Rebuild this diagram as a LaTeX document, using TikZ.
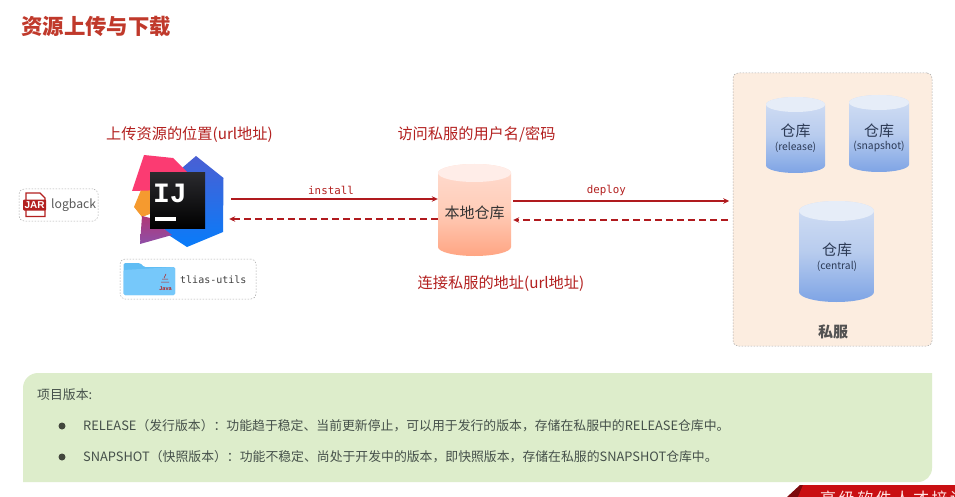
\documentclass[tikz,border=0pt]{standalone}
\usepackage{fontspec}
\setmainfont{Noto Sans CJK SC}
\newfontfamily\monof{DejaVu Sans Mono}
\newfontfamily\logof{Liberation Mono}
\newfontfamily\sansf{Liberation Sans}
\usetikzlibrary{arrows.meta,calc}
\definecolor{titlered}{HTML}{C0392B}
\definecolor{labelred}{HTML}{B3201F}
\definecolor{linkred}{HTML}{B01A1E}
\definecolor{boxgray}{HTML}{ABABAB}
\definecolor{serverfill}{HTML}{FCEDE0}
\definecolor{panelgreen}{HTML}{DDEDCB}
\definecolor{panelink}{HTML}{45504A}
\definecolor{repoink}{HTML}{2C3A55}
\newcommand{\fsz}[1]{\fontsize{#1}{#1}\selectfont}
\newcommand{\cylshape}[6]{%
  \pgfmathsetmacro{\cxx}{(#2+#3)/2}%
  \pgfmathsetmacro{\rxx}{(#3-#2)/2}%
  \pgfmathsetmacro{\ya}{#4+#6}%
  \pgfmathsetmacro{\yb}{#5-#6}%
  \pgfmathsetmacro{\cyy}{(#4+#5)/2}%
  \pgfmathsetmacro{\hh}{#5-#4}%
  \pgfmathsetmacro{\ww}{#3-#2}%
  \node[minimum width=\ww pt,minimum height=\hh pt,inner sep=0pt] (#1) at (\cxx,\cyy) {};
  \path[#1body] (#2,\ya) -- (#2,\yb) arc[start angle=180,end angle=360,x radius=\rxx pt,y radius=#6 pt]
     -- (#3,\ya) arc[start angle=0,end angle=180,x radius=\rxx pt,y radius=#6 pt] -- cycle;
  \path[#1cap] (\cxx,\ya) ellipse[x radius=\rxx pt,y radius=#6 pt];
}
\definecolor{FFDCD0}{HTML}{FFDCD0}
\definecolor{FFA583}{HTML}{FFA583}
\definecolor{FFCDB9}{HTML}{FFCDB9}
\definecolor{FFEDE8}{HTML}{FFEDE8}
\definecolor{D3DFF4}{HTML}{D3DFF4}
\definecolor{7EA4E5}{HTML}{7EA4E5}
\definecolor{B8CCEE}{HTML}{B8CCEE}
\definecolor{E6EDF8}{HTML}{E6EDF8}
\tikzset{
  x=1pt,y=-1pt,
  dashbox/.style={draw=boxgray,line width=.5pt,dash pattern=on 1.5pt off 1.5pt,rounded corners=5pt},
  tag/.style={inner sep=0pt,font=\fsz{15.2},text=labelred},
  link/.style={draw=linkred,line width=1.6pt,-{Stealth[length=6pt,width=5.5pt]}},
  backlink/.style={draw=linkred,line width=1.6pt,dash pattern=on 7pt off 4pt,-{Stealth[length=6pt,width=5.5pt]}},
  linklabel/.style={inner sep=0pt,font=\monof\fsz{10.8},text=labelred},
  localbody/.style={top color=FFDCD0,bottom color=FFA583,middle color=FFCDB9},
  localcap/.style={fill=FFEDE8},
  relbody/.style={top color=D3DFF4,bottom color=7EA4E5,middle color=B8CCEE},
  relcap/.style={fill=E6EDF8},
  snapbody/.style=relbody, snapcap/.style=relcap,
  cenbody/.style=relbody, cencap/.style=relcap,
  repotitle/.style={inner sep=0pt,font=\fsz{15},text=repoink},
  reposub/.style={inner sep=0pt,font=\fsz{10.3},text=repoink},
  paneltext/.style={inner sep=0pt,anchor=west,font=\fsz{12.85},text=panelink},
}
\begin{document}
\begin{tikzpicture}
\useasboundingbox (0,0) rectangle (955,497);
\fill[white] (0,0) rectangle (955,497);

\node[inner sep=0pt,anchor=west,font=\fsz{21.4}\bfseries,text=titlered] (title) at (21,26) {资源上传与下载};

% logback
\node[dashbox,minimum width=79pt,minimum height=32pt,inner sep=0pt] (logback) at (58.5,205) {};
\path[fill=white,draw=labelred,line width=1.1pt] (26,193) -- (40,193) -- (45,198) -- (45,216.5) -- (26,216.5) -- cycle;
\fill[labelred,rounded corners=1pt] (23,199.5) rectangle (46,210.5);
\node[inner sep=0pt,font=\sansf\bfseries\fsz{10},text=white] (jar) at (34.6,205.2) {JAR};
\node[inner sep=0pt,anchor=west,font=\fsz{12.2},text=black!65] (logbacktext) at (51,205) {logback};

% IntelliJ logo
\node[minimum width=93pt,minimum height=92pt,inner sep=0pt] (ij) at (177.5,200.5) {};
\definecolor{ijblueA}{HTML}{4A5FD3}\definecolor{ijblueB}{HTML}{087CFA}
\path[top color=ijblueA,bottom color=ijblueB] (196,156) -- (223.5,178) -- (223,232) -- (187,247) -- (167,234) -- (150,200) -- (182,168) -- cycle;
\definecolor{ijorange}{HTML}{F59A2F}\definecolor{ijpurple}{HTML}{8E4FA8}
\fill[ijorange] (141,190) -- (134,207) -- (142,217) -- (155,212) -- (155,188) -- cycle;
\path[top color=ijpurple!70!red,bottom color=ijpurple] (142,216) -- (140,244) -- (172,235) -- (150,218) -- cycle;
\definecolor{ijpink}{HTML}{FB3B72}
\fill[ijpink] (144,155) -- (173,158) -- (189,174) -- (165,190) -- (132,191) -- cycle;
\definecolor{ijdark}{HTML}{2A2A2E}
\path[top color=ijdark,bottom color=black] (150,173) rectangle (205,228);
\node[inner sep=0pt,font=\logof\bfseries\fsz{28},text=white] (ijtext) at (170,193) {IJ};
\fill[white] (155,217.3) rectangle (176,221);

% tlias-utils
\node[dashbox,minimum width=136pt,minimum height=40pt,inner sep=0pt] (utils) at (188,279) {};
\definecolor{folderA}{HTML}{5FBDF4}\definecolor{folderB}{HTML}{76C8FA}
\path[fill=folderA,rounded corners=1.5pt] (123.5,263) -- (140,263) -- (144,267) -- (175,267) -- (175,295) -- (123.5,295) -- cycle;
\path[fill=folderB,rounded corners=1.5pt] (123.5,270) -- (175,267) -- (175,295) -- (123.5,295) -- cycle;
\draw[labelred,line width=.5pt] (162,279) -- (168,279) (161,282) -- (169,282) (164,278) -- (166,274);
\node[inner sep=0pt,font=\sansf\bfseries\fsz{5.5},text=labelred] (javatag) at (165.5,288.5) {Java};
\node[inner sep=0pt,anchor=west,font=\monof\fsz{10},text=black!75] (utilstext) at (180,280) {tlias-utils};

% captions
\node[tag] (upload) at (189.5,134.5) {上传资源的位置(url地址)};
\node[tag] (cred) at (476.5,134.5) {访问私服的用户名/密码};
\node[tag] (addr) at (501,283.5) {连接私服的地址(url地址)};

% local repository
\cylshape{local}{438}{511}{164}{256}{9}
\node[inner sep=0pt,font=\fsz{15},text=black!80] (localtext) at (474.5,213) {本地仓库};

% private server
\node[dashbox,fill=serverfill,minimum width=199pt,minimum height=273pt,inner sep=0pt] (server) at (832.5,209.5) {};
\cylshape{rel}{766}{825}{97}{173}{7.5}
\cylshape{snap}{849}{909}{95}{172}{7.5}
\cylshape{cen}{799}{874}{201}{302}{10}
\node[repotitle] (relt) at (795.5,131) {仓库};
\node[reposub] (rels) at (795.5,147) {(release)};
\node[repotitle] (snapt) at (879,130.5) {仓库};
\node[reposub] (snaps) at (879,146.5) {(snapshot)};
\node[repotitle] (cent) at (837,250) {仓库};
\node[reposub] (cens) at (837,266) {(central)};
\node[inner sep=0pt,font=\fsz{15}\bfseries,text=black!68] (servert) at (833,332) {私服};

% connectors
\draw[link,shorten <=7pt] ([yshift=1.5pt]ij.east) -- node[linklabel,above=3.5pt] (install) {install} ([yshift=11pt]local.west);
\draw[backlink,shorten >=5pt] ([yshift=-9pt]local.west) -- ([yshift=-18.5pt]ij.east);
\draw[link,shorten <=2pt,shorten >=3.5pt] ([yshift=9pt]local.east) -- node[linklabel,above=4.5pt,pos=.43] (deploy) {deploy} ([yshift=8.5pt]server.west);
\draw[backlink,shorten <=5pt,shorten >=2pt] ([yshift=-10.5pt]server.west) -- ([yshift=-10pt]local.east);

% version panel
\path[fill=panelgreen] (23,482) -- (23,388) arc[start angle=180,end angle=90,radius=15pt] -- (932,373) -- (932,468) arc[start angle=0,end angle=-90,radius=14pt] -- cycle;
\node[paneltext] (ptitle) at (37,394.5) {项目版本:};
\node[circle,fill=black!70!panelgreen,minimum size=7pt,inner sep=0pt] (b1) at (62,426) {};
\node[circle,fill=black!70!panelgreen,minimum size=7pt,inner sep=0pt] (b2) at (62,457) {};
\node[paneltext] (l1) at (83,426) {RELEASE（发行版本）：功能趋于稳定、当前更新停止，可以用于发行的版本，存储在私服中的RELEASE仓库中。};
\node[paneltext] (l2) at (83,457) {SNAPSHOT（快照版本）：功能不稳定、尚处于开发中的版本，即快照版本，存储在私服的SNAPSHOT仓库中。};

% banner
\definecolor{bannerred}{HTML}{C90F12}
\definecolor{bannerdark}{HTML}{7D0B0D}
\begin{scope}
\clip (0,0) rectangle (955,497);
\fill[bannerdark] (787,497) -- (800,485) -- (806,485) -- (806,497) -- cycle;
\fill[bannerred] (803,485) -- (955,485) -- (955,497) -- (798,497) -- cycle;
\node[inner sep=0pt,anchor=west,font=\fsz{16}\addfontfeature{LetterSpace=16},text=white!90!red] (banner) at (820,498) {高级软件人才培训};
\end{scope}
\end{tikzpicture}
\end{document}
